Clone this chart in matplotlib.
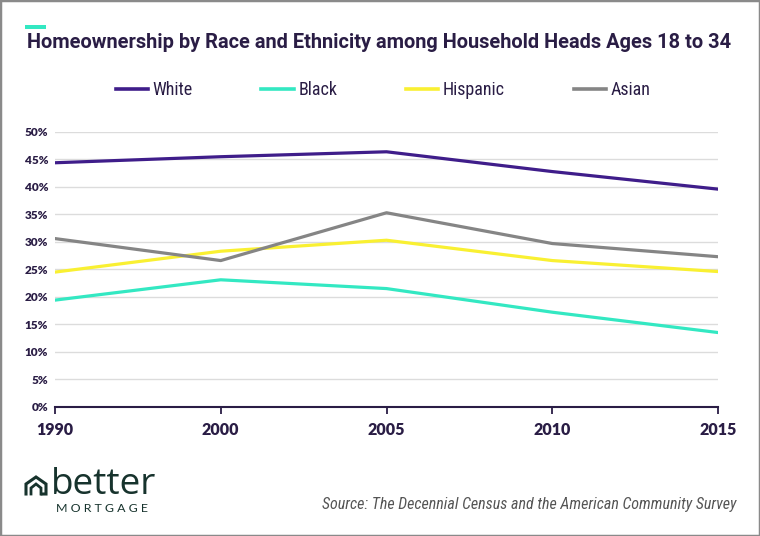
import matplotlib
matplotlib.use("Agg")
import matplotlib.pyplot as plt
from matplotlib.patches import Rectangle
from matplotlib.lines import Line2D

years = ["1990", "2000", "2005", "2010", "2015"]
white = [44.4, 45.5, 46.4, 42.8, 39.6]
black = [19.4, 23.1, 21.5, 17.2, 13.5]
hispanic = [24.5, 28.3, 30.3, 26.6, 24.6]
asian = [30.6, 26.6, 35.3, 29.7, 27.3]
series_names = ["White", "Black", "Hispanic", "Asian"]
yticks = [0, 5, 10, 15, 20, 25, 30, 35, 40, 45, 50]

colors = ["#3f1d8a", "#33e8c2", "#f9f032", "#858585"]
dark = "#2a1d45"
W, H = 760, 536

fig = plt.figure(figsize=(7.6, 5.36), dpi=100)
renderer = fig.canvas.get_renderer()

def fx(px):
    return px / W

def fy(py):
    return 1 - py / H

def fit(t, target_w):
    bb = t.get_window_extent(renderer=renderer)
    t.set_fontsize(t.get_fontsize() * target_w / bb.width)

ax = fig.add_axes([fx(55), fy(406.7), (718 - 55) / W, (406.7 - 132) / H])

x = list(range(len(years)))
for name, vals, c in zip(series_names, [white, black, hispanic, asian], colors):
    ax.plot(x, vals, color=c, lw=2.3, label=name, zorder=3)

ax.set_xlim(0, len(years) - 1)
ax.set_ylim(0, 50)
ax.set_yticks(yticks)
ax.set_yticklabels([f"{v}%" for v in yticks], fontsize=8.5, fontweight="heavy", color=dark, family="Lato")
ax.set_xticks(x)
ax.set_xticklabels(years, fontsize=11.5, fontweight="heavy", color=dark, family="Lato")
ax.grid(axis="y", color="#dcdcdc", lw=1, zorder=0)
for s in ["top", "right", "left"]:
    ax.spines[s].set_visible(False)
ax.spines["bottom"].set_color(dark)
ax.spines["bottom"].set_linewidth(1.5)
ax.tick_params(axis="y", length=0, pad=5)
ax.tick_params(axis="x", length=5, width=1.3, color=dark, pad=6)

leg = fig.legend(loc="center", bbox_to_anchor=(fx(383), fy(90)), ncol=4, frameon=False,
                 handlelength=1.8, handletextpad=0.25, columnspacing=3.8,
                 prop={"family": "Roboto Condensed", "size": 13})
for t in leg.get_texts():
    t.set_color(dark)
for h in leg.get_lines():
    h.set_linewidth(2.6)

title = fig.text(fx(27), fy(43), "Homeownership by Race and Ethnicity among Household Heads Ages 18 to 34",
                 fontsize=14, fontweight="bold", color=dark, family="Roboto", va="center", ha="left")
fit(title, 708)
fig.add_artist(Rectangle((fx(25), fy(29)), 21 / W, 4 / H, transform=fig.transFigure,
                         color="#33e8c2", lw=0))

# logo
green = "#17332d"
hx = [26, 26, 36, 46, 46, 42]
hy = [494, 484, 477, 484, 494, 494]
fig.add_artist(Line2D([fx(v) for v in hx], [fy(v) for v in hy], color=green, lw=2.2,
                      transform=fig.transFigure, solid_joinstyle="miter"))
hx2 = [31, 31, 36, 41, 41]
hy2 = [494, 488, 484, 488, 494]
fig.add_artist(Line2D([fx(v) for v in hx2], [fy(v) for v in hy2], color=green, lw=2.0,
                      transform=fig.transFigure, solid_joinstyle="miter"))
better = fig.text(fx(51), fy(494), "better", fontsize=24, color=green, family="Open Sans",
                  fontweight="normal", va="baseline", ha="left")
fit(better, 106)
mort = fig.text(fx(102), fy(508), "M O R T G A G E", fontsize=8.5, color=green, family="Lato",
                va="center", ha="center")
fit(mort, 92)

src = fig.text(fx(737), fy(505), "Source: The Decennial Census and the American Community Survey",
               fontsize=10.5, style="italic", color="#555555", family="Roboto Condensed",
               va="center", ha="right")
fit(src, 415)

fig.add_artist(Rectangle((0, 0), 1, 1, transform=fig.transFigure, fill=False,
                         edgecolor="#8a8a8a", lw=2.5))

fig.savefig("out.png", dpi=100)
